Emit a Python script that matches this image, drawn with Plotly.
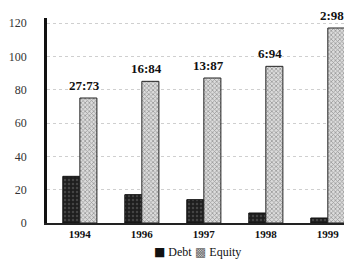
import plotly.graph_objects as go

years = ["1994", "1996", "1997", "1998", "1999"]
debt = [28, 17, 14, 6, 3]
equity = [75, 85, 87, 94, 117]
ratio_labels = ["27:73", "16:84", "13:87", "6:94", "2:98"]
y_ticks = [0, 20, 40, 60, 80, 100, 120]
series_names = ["Debt", "Equity"]

xpos = list(range(len(years)))
bargap = 0.45
half = (1 - bargap) / 4  # offset of each bar centre from group centre

fig = go.Figure()
fig.add_trace(go.Bar(
    x=xpos, y=debt, name=series_names[0], showlegend=False,
    marker=dict(color="#1e1e1e", line=dict(color="#111", width=1),
                pattern=dict(shape=".", fgcolor="#6a6a6a", size=4, solidity=0.3)),
))
fig.add_trace(go.Bar(
    x=xpos, y=equity, name=series_names[1], showlegend=False,
    marker=dict(color="#d6d6d6", line=dict(color="#222", width=1),
                pattern=dict(shape="x", fgcolor="#555", bgcolor="#dcdcdc", size=3, solidity=0.45)),
))

for i, lab in enumerate(ratio_labels):
    fig.add_annotation(x=xpos[i] + half, y=equity[i], text="<b>%s</b>" % lab,
                       showarrow=False, yanchor="bottom", yshift=3, xshift=-4,
                       font=dict(family="Liberation Serif", size=13, color="#111"))

# compact legend below the axis
fig.add_annotation(xref="paper", yref="paper", x=0.343, y=-0.14, xanchor="left", yanchor="middle",
                   text="<span style='font-family:DejaVu Sans'>■</span> " + series_names[0],
                   showarrow=False, font=dict(family="Liberation Serif", size=12, color="#111"))
fig.add_annotation(xref="paper", yref="paper", x=0.478, y=-0.14, xanchor="left", yanchor="middle",
                   text="<span style='font-family:DejaVu Sans;color:#666'>▩</span> " + series_names[1],
                   showarrow=False, font=dict(family="Liberation Serif", size=12, color="#111"))

fig.update_layout(
    width=344, height=253,
    margin=dict(l=39, r=0, t=10, b=38, autoexpand=False),
    paper_bgcolor="white", plot_bgcolor="white",
    barmode="group", bargap=bargap, bargroupgap=0,
    font=dict(family="Liberation Serif", size=12, color="#222"),
    showlegend=False,
)
fig.update_xaxes(
    range=[-0.53, 4.39], tickvals=xpos, ticktext=["<b>%s</b>" % y for y in years],
    tickfont=dict(family="Liberation Serif", size=11, color="#111"),
    showgrid=False, showline=True, linecolor="#222", linewidth=1.5,
    ticks="", zeroline=False, automargin=False,
)
fig.update_yaxes(
    range=[0, 123], tickvals=y_ticks,
    tickfont=dict(family="Liberation Serif", size=12, color="#333"),
    ticklabelstandoff=15,
    showgrid=True, gridcolor="#cfcfcf", griddash="dot", gridwidth=1,
    showline=True, linecolor="#111", linewidth=2.5, ticks="", zeroline=False,
    automargin=False,
)

fig.write_html("out.html")
